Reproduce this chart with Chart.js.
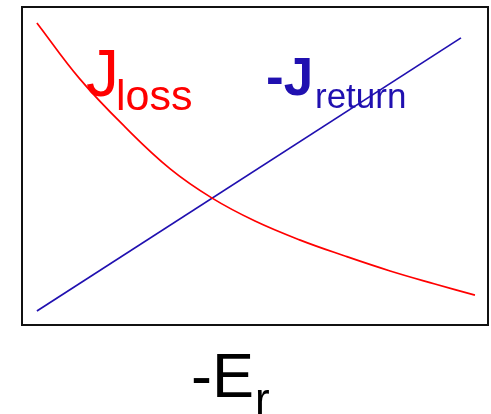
<!DOCTYPE html>
<html>
<head>
<meta charset="utf-8">
<script src="https://cdn.jsdelivr.net/npm/chart.js@4/dist/chart.umd.min.js"></script>
<style>
  html, body { margin: 0; padding: 0; background: #fff; }
  #wrap { width: 491px; height: 414px; }
</style>
</head>
<body>
<div id="wrap"><canvas id="chart" width="491" height="414"></canvas></div>
<script>
// loss current falls off with -Er, return current rises linearly
const lossX = [3.2, 12.4, 22.1, 31.8, 40.8, 50.0, 59.7, 69.3, 79.0, 88.6, 97.2];
const lossY = [95.0, 77.4, 62.3, 49.1, 39.9, 32.7, 26.7, 21.7, 17.0, 12.9, 9.4];
const returnX = [3.2, 94.2];
const returnY = [4.4, 90.3];

const RED = '#ff0000';
const BLUE = '#2010b0';

function toPoints(xs, ys) {
    return xs.map(function (x, i) { return { x: x, y: ys[i] }; });
}

// frame round the plot area plus the hand placed labels
const framePlugin = {
    id: 'frame',
    afterDraw: function (chart) {
        const ctx = chart.ctx;
        const a = chart.chartArea;
        ctx.save();
        ctx.strokeStyle = '#111';
        ctx.lineWidth = 2;
        ctx.strokeRect(a.left, a.top, a.right - a.left, a.bottom - a.top);

        ctx.textBaseline = 'alphabetic';
        ctx.textAlign = 'left';

        // J_loss
        ctx.fillStyle = RED;
        ctx.font = '66px "Liberation Sans", Arial, sans-serif';
        ctx.fillText('J', 86, 96);
        ctx.font = '43px "Liberation Sans", Arial, sans-serif';
        ctx.fillText('loss', 116, 110);

        // -J_return
        ctx.fillStyle = BLUE;
        ctx.font = 'bold 53px "Liberation Sans", Arial, sans-serif';
        ctx.fillText('-J', 266, 95);
        ctx.font = '35px "Liberation Sans", Arial, sans-serif';
        ctx.fillText('return', 315, 108);

        // axis title -E_r
        ctx.fillStyle = '#000';
        ctx.font = '63px "Liberation Sans", Arial, sans-serif';
        ctx.fillText('-E', 191, 397);
        ctx.font = '44px "Liberation Sans", Arial, sans-serif';
        ctx.fillText('r', 255, 414);
        ctx.restore();
    }
};

new Chart(document.getElementById('chart'), {
    type: 'scatter',
    data: {
        datasets: [
            {
                label: 'Jloss',
                data: toPoints(lossX, lossY),
                showLine: true,
                borderColor: RED,
                borderWidth: 1.7,
                pointRadius: 0,
                tension: 0.4
            },
            {
                label: '-Jreturn',
                data: toPoints(returnX, returnY),
                showLine: true,
                borderColor: BLUE,
                borderWidth: 1.7,
                pointRadius: 0
            }
        ]
    },
    options: {
        responsive: false,
        animation: false,
        layout: { padding: { left: 22, top: 7, right: 3, bottom: 89 } },
        scales: {
            x: { type: 'linear', min: 0, max: 100, display: false },
            y: { type: 'linear', min: 0, max: 100, display: false }
        },
        plugins: {
            legend: { display: false },
            tooltip: { enabled: false }
        }
    },
    plugins: [framePlugin]
});
</script>
</body>
</html>
